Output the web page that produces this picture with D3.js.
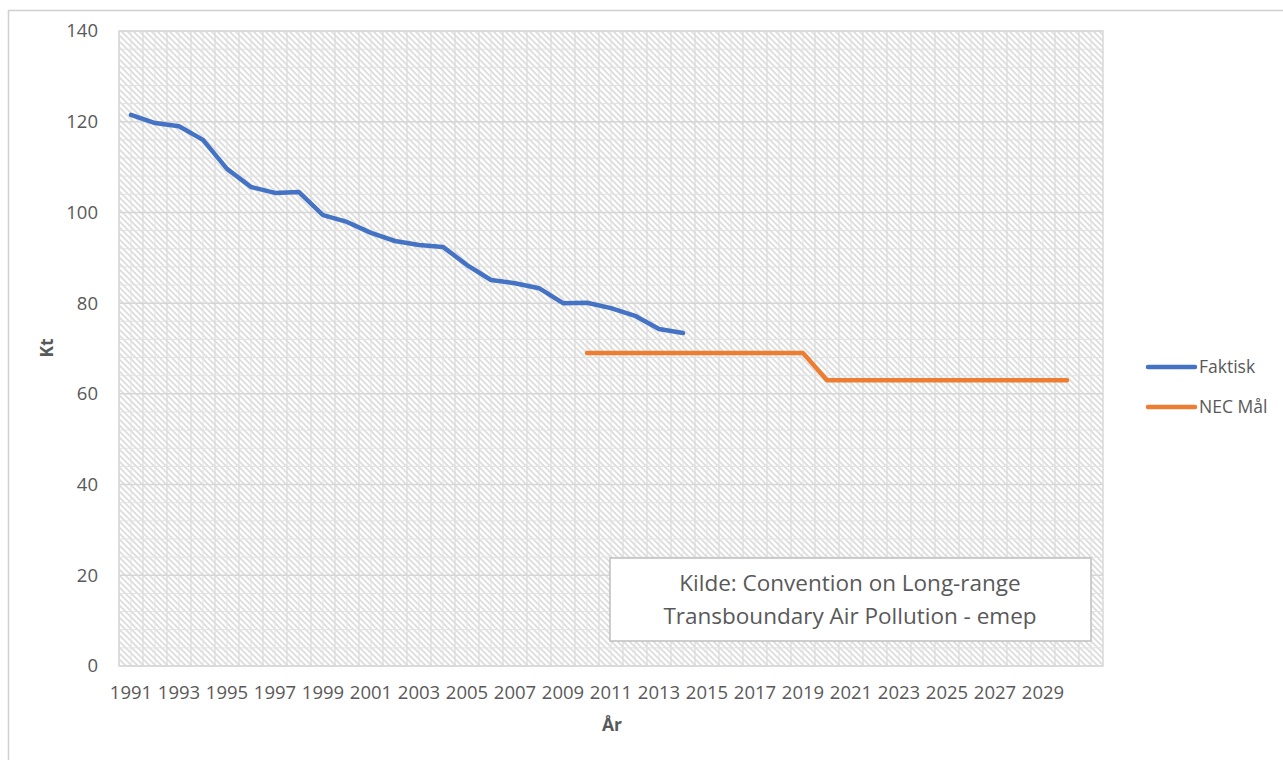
<!DOCTYPE html>
<html>
<head>
<meta charset="utf-8">
<script src="https://cdn.jsdelivr.net/npm/d3@7"></script>
<style>
  body { margin: 0; background: #fff; }
  text { font-family: "Open Sans", sans-serif; fill: #595959; }
</style>
</head>
<body>
<svg id="chart" width="1283" height="760"></svg>
<script>
// Categories (one slot per year, last slot is empty as in the source chart)
const categories = ['1991','1992','1993','1994','1995','1996','1997','1998','1999','2000',
  '2001','2002','2003','2004','2005','2006','2007','2008','2009','2010',
  '2011','2012','2013','2014','2015','2016','2017','2018','2019','2020',
  '2021','2022','2023','2024','2025','2026','2027','2028','2029','2030',''];

// Faktisk, 1991 - 2014
const faktiskYears = ['1991','1992','1993','1994','1995','1996','1997','1998','1999','2000',
  '2001','2002','2003','2004','2005','2006','2007','2008','2009','2010',
  '2011','2012','2013','2014'];
const faktiskValues = [121.5, 119.7, 119.0, 116.0, 109.6, 105.6, 104.3, 104.5, 99.4, 97.9,
  95.5, 93.7, 92.8, 92.4, 88.4, 85.1, 84.4, 83.3, 80.0, 80.1,
  78.9, 77.2, 74.3, 73.4];

// NEC Mål, 2010 - 2030
const necYears = ['2010','2011','2012','2013','2014','2015','2016','2017','2018','2019',
  '2020','2021','2022','2023','2024','2025','2026','2027','2028','2029','2030'];
const necValues = [69, 69, 69, 69, 69, 69, 69, 69, 69, 69,
  63, 63, 63, 63, 63, 63, 63, 63, 63, 63, 63];

const xTickLabels = ['1991','1993','1995','1997','1999','2001','2003','2005','2007','2009',
  '2011','2013','2015','2017','2019','2021','2023','2025','2027','2029'];
const yTicks = [0, 20, 40, 60, 80, 100, 120, 140];
const yMinorTicks = [4,8,12,16,24,28,32,36,44,48,52,56,64,68,72,76,84,88,92,96,104,108,112,116,124,128,132,136];

const series = [
  { name: 'Faktisk', color: '#4472C4', years: faktiskYears, values: faktiskValues },
  { name: 'NEC Mål', color: '#ED7D31', years: necYears, values: necValues }
];

const PLOT = { left: 119, right: 1103, top: 31, bottom: 666 };

const svg = d3.select('#chart');

// Outer chart border
svg.append('rect')
  .attr('x', 8.5).attr('y', 10.5)
  .attr('width', 1290).attr('height', 760)
  .attr('fill', '#fff')
  .attr('stroke', '#d0d0d0')
  .attr('stroke-width', 1.5);

// Hatch pattern for the plot area
const defs = svg.append('defs');
const pat = defs.append('pattern')
  .attr('id', 'hatch')
  .attr('patternUnits', 'userSpaceOnUse')
  .attr('width', 6).attr('height', 6);
pat.append('rect').attr('width', 6).attr('height', 6).attr('fill', '#fff');
pat.append('path')
  .attr('d', 'M-1,-1 L7,7 M-4,2 L2,8 M4,-2 L8,2')
  .attr('stroke', '#dcdcdc')
  .attr('stroke-width', 1.7);

// Scales
const xScale = d3.scaleBand()
  .domain(categories)
  .range([PLOT.left, PLOT.right]);

const yScale = d3.scaleLinear()
  .domain([0, 140])
  .range([PLOT.bottom, PLOT.top]);

const xMid = d => xScale(d) + xScale.bandwidth() / 2;

// Plot area
svg.append('rect')
  .attr('x', PLOT.left).attr('y', PLOT.top)
  .attr('width', PLOT.right - PLOT.left)
  .attr('height', PLOT.bottom - PLOT.top)
  .attr('fill', 'url(#hatch)');

// Grid lines
const grid = svg.append('g');
grid.selectAll('.vgrid')
  .data(categories)
  .join('line')
  .attr('class', 'vgrid')
  .attr('x1', d => xScale(d)).attr('x2', d => xScale(d))
  .attr('y1', PLOT.top).attr('y2', PLOT.bottom)
  .attr('stroke', '#dadada').attr('stroke-width', 1.3);

grid.selectAll('.vgrid-minor')
  .data(categories)
  .join('line')
  .attr('class', 'vgrid-minor')
  .attr('x1', d => xMid(d)).attr('x2', d => xMid(d))
  .attr('y1', PLOT.top).attr('y2', PLOT.bottom)
  .attr('stroke', '#e2e2e2').attr('stroke-width', 1);

grid.selectAll('.hgrid-minor')
  .data(yMinorTicks)
  .join('line')
  .attr('class', 'hgrid-minor')
  .attr('x1', PLOT.left).attr('x2', PLOT.right)
  .attr('y1', d => yScale(d)).attr('y2', d => yScale(d))
  .attr('stroke', '#e2e2e2').attr('stroke-width', 1);

grid.selectAll('.hgrid')
  .data(yTicks)
  .join('line')
  .attr('class', 'hgrid')
  .attr('x1', PLOT.left).attr('x2', PLOT.right)
  .attr('y1', d => yScale(d)).attr('y2', d => yScale(d))
  .attr('stroke', '#d6d6d6').attr('stroke-width', 1.5);

// Plot area border
svg.append('rect')
  .attr('x', PLOT.left).attr('y', PLOT.top)
  .attr('width', PLOT.right - PLOT.left)
  .attr('height', PLOT.bottom - PLOT.top)
  .attr('fill', 'none')
  .attr('stroke', '#d9d9d9').attr('stroke-width', 1.5);

// Y axis labels
svg.append('g')
  .selectAll('text')
  .data(yTicks)
  .join('text')
  .attr('x', 98)
  .attr('y', d => yScale(d))
  .attr('dy', '0.35em')
  .attr('text-anchor', 'end')
  .style('font-size', '18.5px')
  .text(d => d);

// X axis labels
svg.append('g')
  .selectAll('text')
  .data(xTickLabels)
  .join('text')
  .attr('x', d => xMid(d))
  .attr('y', 693)
  .attr('dy', '0.35em')
  .attr('text-anchor', 'middle')
  .style('font-size', '18.5px')
  .text(d => d);

// Axis titles
svg.append('text')
  .text('Kt')
  .attr('transform', 'translate(47, 348) rotate(-90)')
  .attr('text-anchor', 'middle')
  .attr('dy', '0.35em')
  .style('font-size', '17.5px')
  .style('font-weight', 'bold');

svg.append('text')
  .text('År')
  .attr('x', 612).attr('y', 725)
  .attr('text-anchor', 'middle')
  .attr('dy', '0.35em')
  .style('font-size', '17.5px')
  .style('font-weight', 'bold');

// Lines
const lineGenerator = d3.line()
  .x(d => xMid(d[0]))
  .y(d => yScale(d[1]));

svg.append('g')
  .selectAll('path')
  .data(series)
  .join('path')
  .attr('fill', 'none')
  .attr('stroke', d => d.color)
  .attr('stroke-width', 4.5)
  .attr('stroke-linejoin', 'round')
  .attr('stroke-linecap', 'round')
  .attr('d', d => lineGenerator(d3.zip(d.years, d.values)));

// Source text box
const box = svg.append('g');
box.append('rect')
  .attr('x', 610).attr('y', 558)
  .attr('width', 481).attr('height', 83)
  .attr('fill', '#fff')
  .attr('stroke', '#bfbfbf').attr('stroke-width', 1.5);
box.selectAll('text')
  .data(['Kilde: Convention on Long-range', 'Transboundary Air Pollution - emep'])
  .join('text')
  .attr('x', 850)
  .attr('y', (d, i) => 583 + i * 33)
  .attr('dy', '0.35em')
  .attr('text-anchor', 'middle')
  .style('font-size', '22.5px')
  .text(d => d);

// Legend
const legend = svg.append('g')
  .selectAll('g')
  .data(series)
  .join('g')
  .attr('transform', (d, i) => `translate(1148, ${367 + i * 40})`);
legend.append('line')
  .attr('x1', 0).attr('x2', 47)
  .attr('stroke', d => d.color)
  .attr('stroke-width', 4.5)
  .attr('stroke-linecap', 'round');
legend.append('text')
  .attr('x', 51)
  .attr('dy', '0.35em')
  .style('font-size', '17.5px')
  .text(d => d.name);
</script>
</body>
</html>
